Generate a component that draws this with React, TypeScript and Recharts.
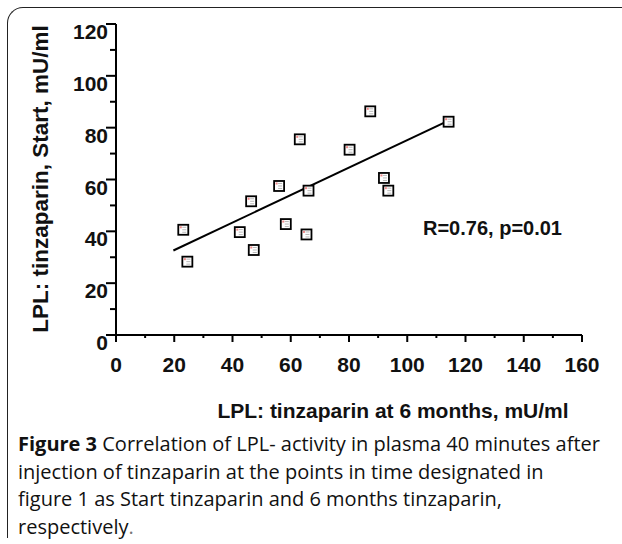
import React from "react"
import { ScatterChart, Scatter, XAxis, YAxis } from "recharts"

// LPL activity: x = 6 months, y = start (mU/ml)
const lplSixMonths = [23.1, 24.5, 42.5, 46.4, 47.3, 56.0, 58.3, 63.1, 65.4, 66.1, 80.2, 87.3, 92.0, 93.5, 114.2]
const lplStart = [40.6, 28.3, 39.7, 51.6, 32.8, 57.5, 42.8, 75.5, 38.8, 55.7, 71.5, 86.3, 60.6, 55.7, 82.3]

// regression line as drawn in the figure
const fitX = [19.7, 115.1]
const fitY = [32.6, 83.2]

const xTicks = [0, 10, 20, 30, 40, 50, 60, 70, 80, 90, 100, 110, 120, 130, 140, 150, 160]
const yTicks = [0, 10, 20, 30, 40, 50, 60, 70, 80, 90, 100, 110, 120]

const points = lplSixMonths.map((x, i) => ({ x, y: lplStart[i] }))
const fitLine = fitX.map((x, i) => ({ x, y: fitY[i] }))

const axisFont = '"Liberation Sans", Arial, sans-serif'

const XTick = ({ x, y, payload }: any) => {
  const major = payload.value % 20 === 0
  return (
    <g>
      <line x1={x} x2={x} y1={y} y2={y + (major ? 7 : 3)} stroke="#000" strokeWidth={2} />
      {major && (
        <text x={x} y={y + 36.5} textAnchor="middle" fontFamily={axisFont} fontWeight="bold" fontSize={21} fill="#111">
          {payload.value}
        </text>
      )}
    </g>
  )
}

const YTick = ({ x, y, payload }: any) => {
  const major = payload.value % 20 === 0
  return (
    <g>
      <line x1={x - (major ? 10 : 6)} x2={x} y1={y} y2={y} stroke="#000" strokeWidth={2} />
      {major && (
        <text x={x - 8} y={y + 15} textAnchor="end" fontFamily={axisFont} fontWeight="bold" fontSize={21} fill="#111">
          {payload.value}
        </text>
      )}
    </g>
  )
}

const BoxMarker = ({ cx, cy }: any) => (
  <g>
    <rect x={cx - 5} y={cy - 5} width={10} height={10} fill="#fff" stroke="#000" strokeWidth={1.8} />
    <rect x={cx - 3.5} y={cy - 3.5} width={2} height={2} fill="#e88" />
    <line x1={cx - 1} x2={cx + 3} y1={cy - 2.5} y2={cy - 2.5} stroke="#999" strokeWidth={0.7} />
    <line x1={cx - 1} x2={cx + 3} y1={cy} y2={cy} stroke="#999" strokeWidth={0.7} />
    <line x1={cx - 1} x2={cx + 3} y1={cy + 2.5} y2={cy + 2.5} stroke="#999" strokeWidth={0.7} />
  </g>
)

export default function App() {
  return (
    <div style={{ position: "absolute", left: 0, top: 0, width: 622, height: 544, overflow: "hidden", background: "#fff" }}>
      <div
        style={{
          position: "absolute",
          left: 7,
          top: 7,
          width: 660,
          height: 530,
          borderTop: "1.5px solid #222",
          borderLeft: "1.5px solid #222",
          borderTopLeftRadius: 16,
        }}
      />
      <div style={{ position: "absolute", left: 0, top: 0 }}>
        <ScatterChart width={622} height={440} margin={{ top: 24, right: 40, bottom: 0, left: 0 }}>
          <XAxis
            type="number"
            dataKey="x"
            domain={[0, 160]}
            ticks={xTicks}
            interval={0}
            tickSize={0}
            tickMargin={0}
            tickLine={false}
            tick={<XTick />}
            height={105}
            axisLine={{ stroke: "#000", strokeWidth: 2 }}
          />
          <YAxis
            type="number"
            dataKey="y"
            domain={[0, 120]}
            ticks={yTicks}
            interval={0}
            tickSize={0}
            tickMargin={0}
            tickLine={false}
            tick={<YTick />}
            width={116}
            axisLine={{ stroke: "#000", strokeWidth: 2 }}
          />
          <Scatter
            data={fitLine}
            line={{ stroke: "#000", strokeWidth: 2 }}
            shape={() => <g />}
            isAnimationActive={false}
          />
          <Scatter data={points} shape={<BoxMarker />} isAnimationActive={false} />
        </ScatterChart>
      </div>
      <svg width={622} height={544} style={{ position: "absolute", left: 0, top: 0, pointerEvents: "none" }}>
        <text
          transform="translate(48, 179) rotate(-90)"
          textAnchor="middle"
          fontFamily={axisFont}
          fontWeight="bold"
          fontSize={22.5}
          fill="#111"
        >
          LPL: tinzaparin, Start, mU/ml
        </text>
        <text x={393} y={418} textAnchor="middle" fontFamily={axisFont} fontWeight="bold" fontSize={21} fill="#111">
          LPL: tinzaparin at 6 months, mU/ml
        </text>
        <text x={423} y={235} fontFamily={axisFont} fontWeight="bold" fontSize={20} fill="#111">
          R=0.76, p=0.01
        </text>
      </svg>
      <div
        style={{
          position: "absolute",
          left: 18,
          top: 430,
          width: 610,
          whiteSpace: "nowrap",
          fontFamily: '"Open Sans", "Noto Sans", sans-serif',
          fontSize: 20,
          lineHeight: "27.5px",
          color: "#111",
        }}
      >
        <b>Figure 3</b> Correlation of LPL- activity in plasma 40 minutes after
        <br />
        injection of tinzaparin at the points in time designated in
        <br />
        figure 1 as Start tinzaparin and 6 months tinzaparin,
        <br />
        respectively<span style={{ color: "#777" }}>.</span>
      </div>
    </div>
  )
}
